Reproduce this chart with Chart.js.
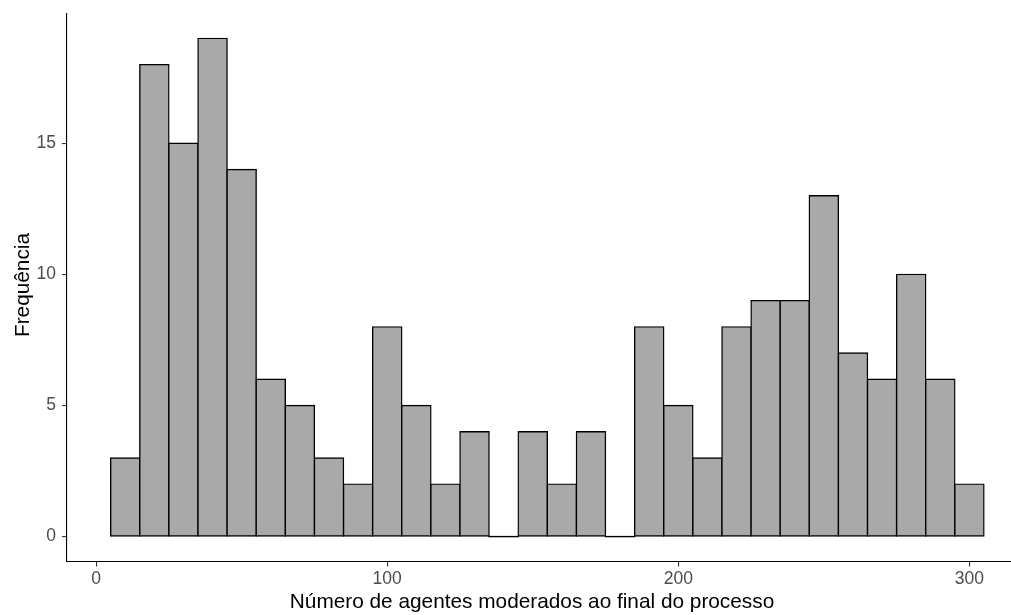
<!DOCTYPE html>
<html>
<head>
<meta charset="utf-8">
<script src="https://cdn.jsdelivr.net/npm/chart.js@4/dist/chart.umd.min.js"></script>
<style>
  html, body { margin: 0; padding: 0; background: #fff; overflow: hidden; }
  #wrap { width: 1011px; height: 615px; position: relative; }
</style>
</head>
<body>
<div id="wrap"><canvas id="chart"></canvas></div>
<script>
// Histogram bins: centres of the 10-wide bins and their counts
const binCenters = [10, 20, 30, 40, 50, 60, 70, 80, 90, 100,
                    110, 120, 130, 140, 150, 160, 170, 180, 190, 200,
                    210, 220, 230, 240, 250, 260, 270, 280, 290, 300];
const binCounts  = [3, 18, 15, 19, 14, 6, 5, 3, 2, 8,
                    5, 2, 4, 0, 4, 2, 4, 0, 8, 5,
                    3, 8, 9, 9, 13, 7, 6, 10, 6, 2];
const xTicks = [0, 100, 200, 300];
const yTicks = [0, 5, 10, 15];
const xTitle = 'Número de agentes moderados ao final do processo';
const yTitle = 'Frequência';

const FONT = "'Liberation Sans', Arial, Helvetica, sans-serif";
const BORDER_W = 1.4;

// zero-count bins are drawn as a flat outline on the baseline
const zeroBinOutline = {
  id: 'zeroBinOutline',
  afterDatasetsDraw(chart) {
    const ctx = chart.ctx;
    const meta = chart.getDatasetMeta(0);
    ctx.save();
    ctx.strokeStyle = '#000';
    ctx.lineWidth = BORDER_W;
    meta.data.forEach((el, i) => {
      if (binCounts[i] === 0) {
        const half = el.width / 2;
        ctx.beginPath();
        ctx.moveTo(el.x - half - BORDER_W / 2, el.y);
        ctx.lineTo(el.x + half + BORDER_W / 2, el.y);
        ctx.stroke();
      }
    });
    ctx.restore();
  }
};

// axis titles
const axisTitles = {
  id: 'axisTitles',
  afterDraw(chart) {
    const ctx = chart.ctx;
    ctx.save();
    ctx.fillStyle = '#000';
    ctx.font = '20.8px ' + FONT;
    ctx.textAlign = 'center';
    ctx.textBaseline = 'alphabetic';
    ctx.fillText(xTitle, 532, 608);
    ctx.translate(29, 285);
    ctx.rotate(-Math.PI / 2);
    ctx.fillText(yTitle, 0, 0);
    ctx.restore();
  }
};

new Chart(document.getElementById('chart'), {
  type: 'bar',
  data: {
    datasets: [{
      data: binCenters.map((c, i) => ({ x: c, y: binCounts[i] })),
      backgroundColor: '#A9A9A9',
      borderColor: '#000',
      borderWidth: BORDER_W,
      borderSkipped: false,
      inflateAmount: BORDER_W / 2,
      barPercentage: 1,
      categoryPercentage: 1
    }]
  },
  options: {
    responsive: true,
    maintainAspectRatio: false,
    animation: false,
    events: [],
    layout: { autoPadding: false, padding: { top: 13.5, right: 0, left: 0, bottom: 0 } },
    plugins: { legend: { display: false }, tooltip: { enabled: false } },
    scales: {
      x: {
        type: 'linear',
        offset: false,
        min: -10,
        max: 314.3,
        afterBuildTicks: s => { s.ticks = xTicks.map(v => ({ value: v })); },
        afterFit: s => { s.height = 53.5; s.paddingLeft = 0; s.paddingRight = 0; },
        border: { display: true, color: '#000', width: 1.1 },
        grid: { offset: false, drawOnChartArea: false, drawTicks: true, tickLength: 5, color: '#333', lineWidth: 1.1 },
        ticks: { color: '#4D4D4D', font: { family: FONT, size: 17.5 }, padding: 2, maxRotation: 0 }
      },
      y: {
        type: 'linear',
        min: -0.95,
        max: 19.95,
        afterBuildTicks: s => { s.ticks = yTicks.map(v => ({ value: v })); },
        afterFit: s => { s.width = 67; s.paddingTop = 0; s.paddingBottom = 0; },
        border: { display: true, color: '#000', width: 1.1 },
        grid: { drawOnChartArea: false, drawTicks: true, tickLength: 5, color: '#333', lineWidth: 1.1 },
        ticks: { color: '#4D4D4D', font: { family: FONT, size: 17.5 }, padding: 6 }
      }
    }
  },
  plugins: [zeroBinOutline, axisTitles]
});
</script>
</body>
</html>
